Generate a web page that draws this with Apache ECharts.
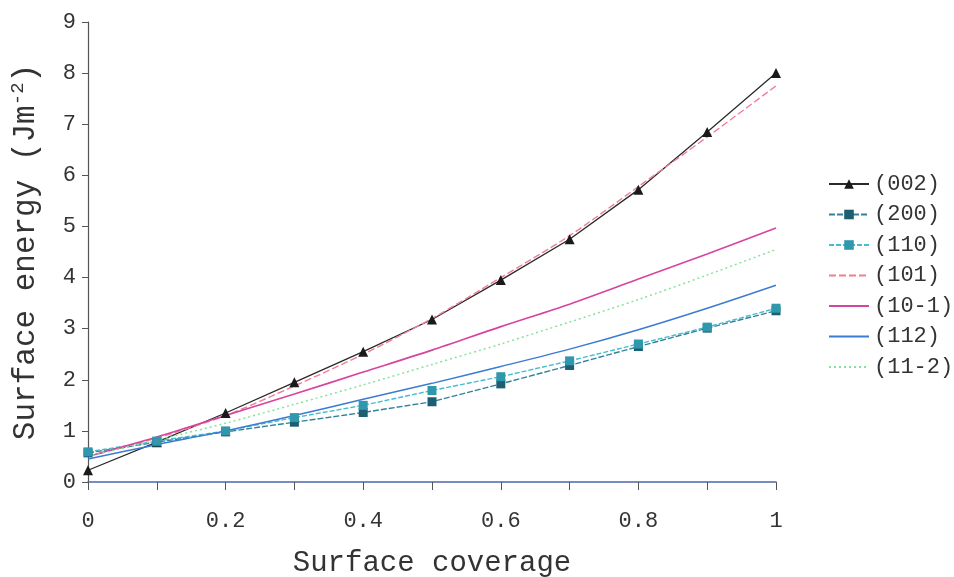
<!DOCTYPE html>
<html>
<head>
<meta charset="utf-8">
<title>Surface energy vs surface coverage</title>
<script src="https://cdn.jsdelivr.net/npm/echarts@6/dist/echarts.min.js"></script>
<style>
  html, body { margin: 0; padding: 0; background: #fff; }
  #chart { width: 954px; height: 577px; }
</style>
</head>
<body>
<div id="chart"></div>
<script>
// Surface coverage (x) and surface energy in J m^-2 for each facet
const coverage = [0, 0.1, 0.2, 0.3, 0.4, 0.5, 0.6, 0.7, 0.8, 0.9, 1.0];

const e002  = [0.23, 0.78, 1.35, 1.95, 2.55, 3.18, 3.95, 4.75, 5.72, 6.85, 8.0];
const e200  = [0.57, 0.78, 0.98, 1.17, 1.36, 1.57, 1.92, 2.28, 2.65, 3.01, 3.35];
const e110  = [0.59, 0.80, 1.00, 1.26, 1.50, 1.79, 2.06, 2.37, 2.70, 3.03, 3.40];
const e101  = [0.50, 0.86, 1.30, 1.88, 2.50, 3.20, 4.00, 4.82, 5.78, 6.75, 7.75];
const e10m1 = [0.50, 0.88, 1.30, 1.72, 2.15, 2.58, 3.04, 3.48, 3.97, 4.46, 4.97];
const e112  = [0.45, 0.73, 1.00, 1.30, 1.62, 1.93, 2.26, 2.60, 2.98, 3.40, 3.85];
const e11m2 = [0.50, 0.82, 1.15, 1.52, 1.90, 2.30, 2.70, 3.13, 3.57, 4.05, 4.55];

const yTicks = [0, 1, 2, 3, 4, 5, 6, 7, 8, 9];

const pairs = ys => coverage.map((x, i) => [x, ys[i]]);
const FONT = '"Liberation Mono", "DejaVu Sans Mono", monospace';

// legend entries of the plain-line facets show only their line style
const lineOnly = { opacity: 0 };

const chart = echarts.init(document.getElementById('chart'));

chart.setOption({
  animation: false,
  backgroundColor: '#ffffff',
  textStyle: { fontFamily: FONT, color: '#333' },
  grid: { left: 88, right: 178, top: 22, bottom: 95, containLabel: false, outerBoundsMode: 'none' },
  legend: {
    orient: 'vertical',
    left: 823,
    top: 168,
    itemWidth: 40,
    itemHeight: 12,
    itemGap: 8.5,
    itemTextGap: 4,
    textStyle: { fontFamily: FONT, fontSize: 22, color: '#333' },
    data: [
      { name: '(002)' },
      { name: '(200)' },
      { name: '(110)' },
      { name: '(101)', itemStyle: lineOnly },
      { name: '(10-1)', itemStyle: lineOnly },
      { name: '(112)', itemStyle: lineOnly },
      { name: '(11-2)', itemStyle: lineOnly }
    ]
  },
  xAxis: {
    type: 'value',
    min: 0,
    max: 1,
    interval: 0.1,
    name: 'Surface coverage',
    nameLocation: 'middle',
    nameGap: 67,
    nameTextStyle: { fontFamily: FONT, fontSize: 29, color: '#333' },
    axisLine: { show: true, lineStyle: { color: '#4a6aa8', width: 1.5 } },
    axisTick: { show: true, inside: false, length: 8, lineStyle: { color: '#555' } },
    splitLine: { show: false },
    axisLabel: {
      fontFamily: FONT,
      fontSize: 22,
      color: '#333',
      margin: 28,
      formatter: v => (Math.round(v * 10) % 2 === 0 ? String(+v.toFixed(1)) : '')
    }
  },
  yAxis: {
    type: 'value',
    min: 0,
    max: 9,
    interval: 1,
    name: 'Surface energy (Jm{sup|-2})',
    nameLocation: 'middle',
    nameGap: 45,
    nameRotate: 90,
    nameTextStyle: {
      fontFamily: FONT,
      fontSize: 31,
      color: '#333',
      rich: {
        sup: { fontFamily: FONT, fontSize: 19, color: '#333', verticalAlign: 'top', padding: [0, 0, 16, 0] }
      }
    },
    axisLine: { show: true, onZero: false, lineStyle: { color: '#555', width: 1.2 } },
    axisTick: { show: true, length: 6, lineStyle: { color: '#555' } },
    splitLine: { show: false },
    axisLabel: {
      fontFamily: FONT,
      fontSize: 22,
      color: '#333',
      margin: 12,
      formatter: v => (yTicks.includes(v) ? String(v) : '')
    }
  },
  series: [
    {
      name: '(002)', type: 'line', data: pairs(e002),
      symbol: 'triangle', symbolSize: 10,
      itemStyle: { color: '#1a1a1a' },
      lineStyle: { color: '#2a2a2a', width: 1.3 }
    },
    {
      name: '(200)', type: 'line', data: pairs(e200),
      symbol: 'rect', symbolSize: 9,
      itemStyle: { color: '#1d5f72' },
      lineStyle: { color: '#2f8299', width: 1.4, type: [6, 2] }
    },
    {
      name: '(110)', type: 'line', data: pairs(e110),
      symbol: 'rect', symbolSize: 9,
      itemStyle: { color: '#2f98ad' },
      lineStyle: { color: '#46bcd0', width: 1.4, type: [5, 2] }
    },
    {
      name: '(101)', type: 'line', data: pairs(e101),
      symbol: 'none', smooth: 0.3,
      itemStyle: { color: '#f27d97' },
      lineStyle: { color: '#f27d97', width: 1.4, type: [7, 3] }
    },
    {
      name: '(10-1)', type: 'line', data: pairs(e10m1),
      symbol: 'none', smooth: 0.3,
      itemStyle: { color: '#d6449f' },
      lineStyle: { color: '#d6449f', width: 1.6 }
    },
    {
      name: '(112)', type: 'line', data: pairs(e112),
      symbol: 'none', smooth: 0.3,
      itemStyle: { color: '#3c7bd2' },
      lineStyle: { color: '#3c7bd2', width: 1.5 }
    },
    {
      name: '(11-2)', type: 'line', data: pairs(e11m2),
      symbol: 'none', smooth: 0.3,
      itemStyle: { color: '#86e29a' },
      lineStyle: { color: '#86e29a', width: 1.5, type: [2, 3] }
    }
  ]
});
</script>
</body>
</html>
